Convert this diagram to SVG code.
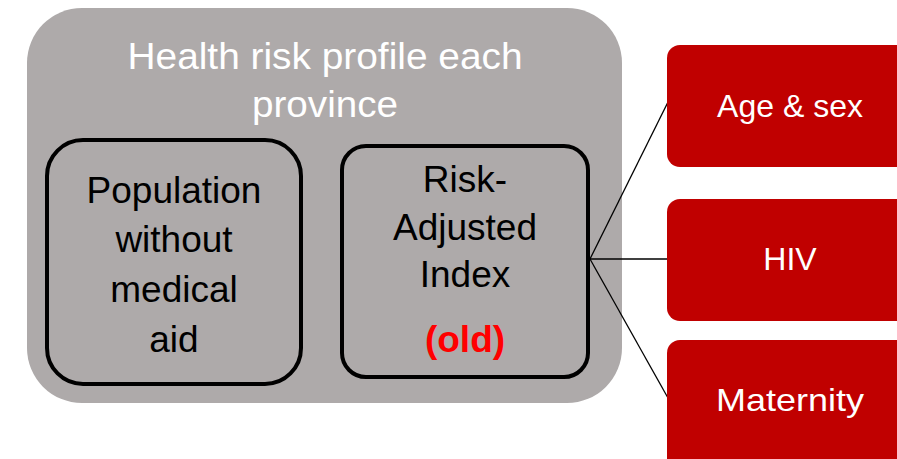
<svg xmlns="http://www.w3.org/2000/svg" width="897" height="459" viewBox="0 0 897 459">
<style>
text{font-family:"Liberation Sans",Arial,sans-serif;text-anchor:middle}
.inner{fill:#AEAAAA;stroke:#000;stroke-width:4}
.dark{fill:#000;font-size:37px}
.red{fill:#C00000}
.wt{fill:#fff;font-size:32px}
.conn{stroke:#000;stroke-width:1.3;fill:none}
</style>
<g id="outer">
<rect x="27" y="8" width="595" height="395" rx="55" fill="#AEAAAA"/>
<text x="325" y="69" fill="#fff" font-size="37" textLength="395" lengthAdjust="spacingAndGlyphs">Health risk profile each</text>
<text x="325" y="117" fill="#fff" font-size="37" textLength="146" lengthAdjust="spacingAndGlyphs">province</text>
</g>
<g id="population">
<rect class="inner" x="47" y="140" width="254" height="244" rx="36"/>
<text class="dark" x="174" y="203">Population</text>
<text class="dark" x="174" y="252">without</text>
<text class="dark" x="174" y="302">medical</text>
<text class="dark" x="174" y="352">aid</text>
</g>
<g id="rai">
<rect class="inner" x="342" y="146" width="246" height="231" rx="24"/>
<text class="dark" x="465" y="192">Risk-</text>
<text class="dark" x="465" y="240">Adjusted</text>
<text class="dark" x="465" y="287">Index</text>
<text x="465" y="352" fill="#FF0000" font-size="37" font-weight="bold">(old)</text>
</g>
<g id="connectors">
<line class="conn" x1="590" y1="259" x2="668" y2="102"/>
<line class="conn" x1="590" y1="259" x2="668" y2="259"/>
<line class="conn" x1="590" y1="259" x2="668" y2="398"/>
</g>
<g id="agesex">
<rect class="red" x="667" y="45" width="260" height="122" rx="13"/>
<text class="wt" x="790" y="117">Age &amp; sex</text>
</g>
<g id="hiv">
<rect class="red" x="667" y="199" width="260" height="122" rx="13"/>
<text class="wt" x="790" y="270">HIV</text>
</g>
<g id="maternity">
<rect class="red" x="667" y="340" width="260" height="140" rx="13"/>
<text class="wt" x="790" y="411" textLength="148" lengthAdjust="spacingAndGlyphs">Maternity</text>
</g>
</svg>
